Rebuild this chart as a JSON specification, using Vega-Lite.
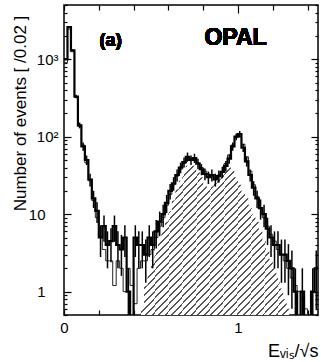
{
  "$schema": "https://vega.github.io/schema/vega-lite/v6.json",
  "width": 254,
  "height": 310,
  "autosize": "none",
  "padding": {"left": 64, "top": 5, "right": 3, "bottom": 47},
  "background": "white",
  "config": {
    "view": {"stroke": "black", "strokeWidth": 1.5},
    "font": "Liberation Sans",
    "axis": {"grid": false, "domain": false, "tickColor": "black", "labelColor": "black", "labelFont": "Liberation Sans", "labelFontSize": 15, "titleFont": "Liberation Sans", "titleColor": "black", "titleFontWeight": "normal"}
  },
  "data": {"values": [
    {"x": 0.00, "d": 1000, "m": 900, "lo": 968, "hi": 1032},
    {"x": 0.02, "d": 2600, "m": 2450, "lo": 2549, "hi": 2651},
    {"x": 0.04, "d": 1300, "m": 1250, "lo": 1264, "hi": 1336},
    {"x": 0.06, "d": 330, "m": 320, "lo": 312, "hi": 348},
    {"x": 0.08, "d": 140, "m": 135, "lo": 128, "hi": 152},
    {"x": 0.10, "d": 75, "m": 78, "lo": 66, "hi": 84},
    {"x": 0.12, "d": 50, "m": 46, "lo": 43, "hi": 57},
    {"x": 0.14, "d": 28, "m": 27, "lo": 22.7, "hi": 33.3},
    {"x": 0.16, "d": 16, "m": 15, "lo": 12, "hi": 20},
    {"x": 0.18, "d": 11, "m": 9, "lo": 7.7, "hi": 14.3},
    {"x": 0.20, "d": 5, "m": 5, "lo": 2.8, "hi": 7.2},
    {"x": 0.22, "d": 7, "m": 3.5, "lo": 4.4, "hi": 9.6},
    {"x": 0.24, "d": 4, "m": 2.5, "lo": 2, "hi": 6},
    {"x": 0.26, "d": 4.5, "m": 2.5, "lo": 2.4, "hi": 6.6},
    {"x": 0.28, "d": 7, "m": 1.2, "lo": 4.4, "hi": 9.6},
    {"x": 0.30, "d": 4, "m": 2.5, "lo": 2, "hi": 6},
    {"x": 0.32, "d": 3.5, "m": 2, "lo": 1.6, "hi": 5.4},
    {"x": 0.34, "d": 5, "m": 1, "lo": 2.8, "hi": 7.2},
    {"x": 0.36, "d": 1, "m": 2, "lo": 0.3, "hi": 2},
    {"x": 0.38, "d": 0.3, "m": 1.2},
    {"x": 0.40, "d": 5, "m": 0.7, "lo": 2.8, "hi": 7.2},
    {"x": 0.42, "d": 4, "m": 2, "s": 0.3, "lo": 2, "hi": 6},
    {"x": 0.44, "d": 4, "m": 2.5, "s": 0.6, "lo": 2, "hi": 6},
    {"x": 0.46, "d": 3, "m": 2.5, "s": 1.2, "lo": 1.3, "hi": 4.7},
    {"x": 0.48, "d": 5, "m": 3, "s": 1.8, "lo": 2.8, "hi": 7.2},
    {"x": 0.50, "d": 4, "m": 3.5, "s": 2.5, "lo": 2, "hi": 6},
    {"x": 0.52, "d": 6, "m": 5, "s": 3.5, "lo": 3.6, "hi": 8.4},
    {"x": 0.54, "d": 8, "m": 7, "s": 4.5, "lo": 5.2, "hi": 10.8},
    {"x": 0.56, "d": 10, "m": 9, "s": 6, "lo": 6.8, "hi": 13.2},
    {"x": 0.58, "d": 14, "m": 13, "s": 8, "lo": 10.3, "hi": 17.7},
    {"x": 0.60, "d": 20, "m": 18, "s": 11, "lo": 15.5, "hi": 24.5},
    {"x": 0.62, "d": 25, "m": 24, "s": 15, "lo": 20, "hi": 30},
    {"x": 0.64, "d": 32, "m": 31, "s": 21, "lo": 26.3, "hi": 37.7},
    {"x": 0.66, "d": 40, "m": 38, "s": 27, "lo": 33.7, "hi": 46.3},
    {"x": 0.68, "d": 47, "m": 45, "s": 34, "lo": 40.1, "hi": 53.9},
    {"x": 0.70, "d": 55, "m": 50, "s": 42, "lo": 47.6, "hi": 62.4},
    {"x": 0.72, "d": 50, "m": 52, "s": 44, "lo": 43, "hi": 57},
    {"x": 0.74, "d": 53, "m": 50, "s": 42, "lo": 45.7, "hi": 60.3},
    {"x": 0.76, "d": 45, "m": 46, "s": 36, "lo": 38.3, "hi": 51.7},
    {"x": 0.78, "d": 38, "m": 40, "s": 30, "lo": 31.8, "hi": 44.2},
    {"x": 0.80, "d": 33, "m": 36, "s": 24, "lo": 27.3, "hi": 38.7},
    {"x": 0.82, "d": 30, "m": 33, "s": 22, "lo": 24.5, "hi": 35.5},
    {"x": 0.84, "d": 32, "m": 31, "s": 23, "lo": 26.3, "hi": 37.7},
    {"x": 0.86, "d": 28, "m": 31, "s": 25, "lo": 22.7, "hi": 33.3},
    {"x": 0.88, "d": 31, "m": 32, "s": 28, "lo": 25.4, "hi": 36.6},
    {"x": 0.90, "d": 35, "m": 36, "s": 33, "lo": 29.1, "hi": 40.9},
    {"x": 0.92, "d": 42, "m": 45, "s": 38, "lo": 35.5, "hi": 48.5},
    {"x": 0.94, "d": 52, "m": 58, "s": 40, "lo": 44.8, "hi": 59.2},
    {"x": 0.96, "d": 75, "m": 78, "s": 36, "lo": 66, "hi": 84},
    {"x": 0.98, "d": 100, "m": 98, "s": 30, "lo": 90, "hi": 110},
    {"x": 1.00, "d": 108, "m": 100, "s": 24, "lo": 97.6, "hi": 118.4},
    {"x": 1.02, "d": 72, "m": 80, "s": 19, "lo": 63.5, "hi": 80.5},
    {"x": 1.04, "d": 48, "m": 55, "s": 16, "lo": 41.1, "hi": 54.9},
    {"x": 1.06, "d": 32, "m": 36, "s": 13, "lo": 26.3, "hi": 37.7},
    {"x": 1.08, "d": 22, "m": 24, "s": 10, "lo": 17.3, "hi": 26.7},
    {"x": 1.10, "d": 16, "m": 17, "s": 8, "lo": 12, "hi": 20},
    {"x": 1.12, "d": 12, "m": 12, "s": 6, "lo": 8.5, "hi": 15.5},
    {"x": 1.14, "d": 10, "m": 9, "s": 4.5, "lo": 6.8, "hi": 13.2},
    {"x": 1.16, "d": 6.5, "m": 7, "s": 3.5, "lo": 4, "hi": 9},
    {"x": 1.18, "d": 5, "m": 5.5, "s": 2.6, "lo": 2.8, "hi": 7.2},
    {"x": 1.20, "d": 4, "m": 4.5, "s": 2, "lo": 2, "hi": 6},
    {"x": 1.22, "d": 4, "m": 3.5, "s": 1.5, "lo": 2, "hi": 6},
    {"x": 1.24, "d": 3, "m": 3, "s": 1.1, "lo": 1.3, "hi": 4.7},
    {"x": 1.26, "d": 3, "m": 2.5, "s": 0.8, "lo": 1.3, "hi": 4.7},
    {"x": 1.28, "d": 2.5, "m": 2, "s": 0.6, "lo": 0.9, "hi": 4.1},
    {"x": 1.30, "d": 2, "m": 1.5, "s": 0.3, "lo": 0.6, "hi": 3.4},
    {"x": 1.32, "d": 1, "m": 1.2, "s": 0.3, "lo": 0.3, "hi": 2},
    {"x": 1.34, "d": 0.3, "m": 1},
    {"x": 1.36, "d": 1, "m": 0.8, "lo": 0.3, "hi": 2},
    {"x": 1.38, "d": 0.3, "m": 0.6},
    {"x": 1.40, "d": 0.3, "m": 0.3},
    {"x": 1.42, "d": 1, "m": 0.3, "lo": 0.3, "hi": 2},
    {"x": 1.44, "d": 2, "m": 0.3, "lo": 0.6, "hi": 3.4},
    {"x": 1.46, "d": 2, "m": 0.3}
  ]},
  "layer": [
    {
      "transform": [{"filter": "isValid(datum.s)"}],
      "mark": {"type": "area", "interpolate": "step-after", "clip": true, "strokeWidth": 0,
        "fill": {"gradient": "linear", "x1": 0, "y1": 0, "x2": 1, "y2": 1, "stops": [
{"offset":0,"color":"#ffffff"},{"offset":0.015,"color":"#ffffff"},{"offset":0.015,"color":"#555555"},{"offset":0.0208,"color":"#555555"},
{"offset":0.0208,"color":"#ffffff"},{"offset":0.0358,"color":"#ffffff"},{"offset":0.0358,"color":"#555555"},{"offset":0.0417,"color":"#555555"},
{"offset":0.0417,"color":"#ffffff"},{"offset":0.0567,"color":"#ffffff"},{"offset":0.0567,"color":"#555555"},{"offset":0.0625,"color":"#555555"},
{"offset":0.0625,"color":"#ffffff"},{"offset":0.0775,"color":"#ffffff"},{"offset":0.0775,"color":"#555555"},{"offset":0.0833,"color":"#555555"},
{"offset":0.0833,"color":"#ffffff"},{"offset":0.0983,"color":"#ffffff"},{"offset":0.0983,"color":"#555555"},{"offset":0.1042,"color":"#555555"},
{"offset":0.1042,"color":"#ffffff"},{"offset":0.1192,"color":"#ffffff"},{"offset":0.1192,"color":"#555555"},{"offset":0.125,"color":"#555555"},
{"offset":0.125,"color":"#ffffff"},{"offset":0.14,"color":"#ffffff"},{"offset":0.14,"color":"#555555"},{"offset":0.1458,"color":"#555555"},
{"offset":0.1458,"color":"#ffffff"},{"offset":0.1608,"color":"#ffffff"},{"offset":0.1608,"color":"#555555"},{"offset":0.1667,"color":"#555555"},
{"offset":0.1667,"color":"#ffffff"},{"offset":0.1817,"color":"#ffffff"},{"offset":0.1817,"color":"#555555"},{"offset":0.1875,"color":"#555555"},
{"offset":0.1875,"color":"#ffffff"},{"offset":0.2025,"color":"#ffffff"},{"offset":0.2025,"color":"#555555"},{"offset":0.2083,"color":"#555555"},
{"offset":0.2083,"color":"#ffffff"},{"offset":0.2233,"color":"#ffffff"},{"offset":0.2233,"color":"#555555"},{"offset":0.2292,"color":"#555555"},
{"offset":0.2292,"color":"#ffffff"},{"offset":0.2442,"color":"#ffffff"},{"offset":0.2442,"color":"#555555"},{"offset":0.25,"color":"#555555"},
{"offset":0.25,"color":"#ffffff"},{"offset":0.265,"color":"#ffffff"},{"offset":0.265,"color":"#555555"},{"offset":0.2708,"color":"#555555"},
{"offset":0.2708,"color":"#ffffff"},{"offset":0.2858,"color":"#ffffff"},{"offset":0.2858,"color":"#555555"},{"offset":0.2917,"color":"#555555"},
{"offset":0.2917,"color":"#ffffff"},{"offset":0.3067,"color":"#ffffff"},{"offset":0.3067,"color":"#555555"},{"offset":0.3125,"color":"#555555"},
{"offset":0.3125,"color":"#ffffff"},{"offset":0.3275,"color":"#ffffff"},{"offset":0.3275,"color":"#555555"},{"offset":0.3333,"color":"#555555"},
{"offset":0.3333,"color":"#ffffff"},{"offset":0.3483,"color":"#ffffff"},{"offset":0.3483,"color":"#555555"},{"offset":0.3542,"color":"#555555"},
{"offset":0.3542,"color":"#ffffff"},{"offset":0.3692,"color":"#ffffff"},{"offset":0.3692,"color":"#555555"},{"offset":0.375,"color":"#555555"},
{"offset":0.375,"color":"#ffffff"},{"offset":0.39,"color":"#ffffff"},{"offset":0.39,"color":"#555555"},{"offset":0.3958,"color":"#555555"},
{"offset":0.3958,"color":"#ffffff"},{"offset":0.4108,"color":"#ffffff"},{"offset":0.4108,"color":"#555555"},{"offset":0.4167,"color":"#555555"},
{"offset":0.4167,"color":"#ffffff"},{"offset":0.4317,"color":"#ffffff"},{"offset":0.4317,"color":"#555555"},{"offset":0.4375,"color":"#555555"},
{"offset":0.4375,"color":"#ffffff"},{"offset":0.4525,"color":"#ffffff"},{"offset":0.4525,"color":"#555555"},{"offset":0.4583,"color":"#555555"},
{"offset":0.4583,"color":"#ffffff"},{"offset":0.4733,"color":"#ffffff"},{"offset":0.4733,"color":"#555555"},{"offset":0.4792,"color":"#555555"},
{"offset":0.4792,"color":"#ffffff"},{"offset":0.4942,"color":"#ffffff"},{"offset":0.4942,"color":"#555555"},{"offset":0.5,"color":"#555555"},
{"offset":0.5,"color":"#ffffff"},{"offset":0.515,"color":"#ffffff"},{"offset":0.515,"color":"#555555"},{"offset":0.5208,"color":"#555555"},
{"offset":0.5208,"color":"#ffffff"},{"offset":0.5358,"color":"#ffffff"},{"offset":0.5358,"color":"#555555"},{"offset":0.5417,"color":"#555555"},
{"offset":0.5417,"color":"#ffffff"},{"offset":0.5567,"color":"#ffffff"},{"offset":0.5567,"color":"#555555"},{"offset":0.5625,"color":"#555555"},
{"offset":0.5625,"color":"#ffffff"},{"offset":0.5775,"color":"#ffffff"},{"offset":0.5775,"color":"#555555"},{"offset":0.5833,"color":"#555555"},
{"offset":0.5833,"color":"#ffffff"},{"offset":0.5983,"color":"#ffffff"},{"offset":0.5983,"color":"#555555"},{"offset":0.6042,"color":"#555555"},
{"offset":0.6042,"color":"#ffffff"},{"offset":0.6192,"color":"#ffffff"},{"offset":0.6192,"color":"#555555"},{"offset":0.625,"color":"#555555"},
{"offset":0.625,"color":"#ffffff"},{"offset":0.64,"color":"#ffffff"},{"offset":0.64,"color":"#555555"},{"offset":0.6458,"color":"#555555"},
{"offset":0.6458,"color":"#ffffff"},{"offset":0.6608,"color":"#ffffff"},{"offset":0.6608,"color":"#555555"},{"offset":0.6667,"color":"#555555"},
{"offset":0.6667,"color":"#ffffff"},{"offset":0.6817,"color":"#ffffff"},{"offset":0.6817,"color":"#555555"},{"offset":0.6875,"color":"#555555"},
{"offset":0.6875,"color":"#ffffff"},{"offset":0.7025,"color":"#ffffff"},{"offset":0.7025,"color":"#555555"},{"offset":0.7083,"color":"#555555"},
{"offset":0.7083,"color":"#ffffff"},{"offset":0.7233,"color":"#ffffff"},{"offset":0.7233,"color":"#555555"},{"offset":0.7292,"color":"#555555"},
{"offset":0.7292,"color":"#ffffff"},{"offset":0.7442,"color":"#ffffff"},{"offset":0.7442,"color":"#555555"},{"offset":0.75,"color":"#555555"},
{"offset":0.75,"color":"#ffffff"},{"offset":0.765,"color":"#ffffff"},{"offset":0.765,"color":"#555555"},{"offset":0.7708,"color":"#555555"},
{"offset":0.7708,"color":"#ffffff"},{"offset":0.7858,"color":"#ffffff"},{"offset":0.7858,"color":"#555555"},{"offset":0.7917,"color":"#555555"},
{"offset":0.7917,"color":"#ffffff"},{"offset":0.8067,"color":"#ffffff"},{"offset":0.8067,"color":"#555555"},{"offset":0.8125,"color":"#555555"},
{"offset":0.8125,"color":"#ffffff"},{"offset":0.8275,"color":"#ffffff"},{"offset":0.8275,"color":"#555555"},{"offset":0.8333,"color":"#555555"},
{"offset":0.8333,"color":"#ffffff"},{"offset":0.8483,"color":"#ffffff"},{"offset":0.8483,"color":"#555555"},{"offset":0.8542,"color":"#555555"},
{"offset":0.8542,"color":"#ffffff"},{"offset":0.8692,"color":"#ffffff"},{"offset":0.8692,"color":"#555555"},{"offset":0.875,"color":"#555555"},
{"offset":0.875,"color":"#ffffff"},{"offset":0.89,"color":"#ffffff"},{"offset":0.89,"color":"#555555"},{"offset":0.8958,"color":"#555555"},
{"offset":0.8958,"color":"#ffffff"},{"offset":0.9108,"color":"#ffffff"},{"offset":0.9108,"color":"#555555"},{"offset":0.9167,"color":"#555555"},
{"offset":0.9167,"color":"#ffffff"},{"offset":0.9317,"color":"#ffffff"},{"offset":0.9317,"color":"#555555"},{"offset":0.9375,"color":"#555555"},
{"offset":0.9375,"color":"#ffffff"},{"offset":0.9525,"color":"#ffffff"},{"offset":0.9525,"color":"#555555"},{"offset":0.9583,"color":"#555555"},
{"offset":0.9583,"color":"#ffffff"},{"offset":0.9733,"color":"#ffffff"},{"offset":0.9733,"color":"#555555"},{"offset":0.9792,"color":"#555555"},
{"offset":0.9792,"color":"#ffffff"},{"offset":0.9942,"color":"#ffffff"},{"offset":0.9942,"color":"#555555"},{"offset":1,"color":"#555555"}
        ]}},
      "encoding": {
        "x": {"field": "x", "type": "quantitative", "scale": {"domain": [0, 1.46], "nice": false, "zero": false},
          "axis": {"orient": "bottom", "values": [0, 0.2, 0.4, 0.6, 0.8, 1, 1.2, 1.4], "tickSize": -5, "tickWidth": 1.2,
            "labelExpr": "datum.value == 0 ? '0' : datum.value == 1 ? '1' : ''", "labelPadding": 10, "labelFlush": false,
            "title": "Eᵥᵢₛ/√s", "titleFontSize": 18, "titleX": 254, "titleY": 41, "titleAlign": "right", "titleBaseline": "alphabetic", "titleAnchor": null}},
        "y": {"field": "s", "type": "quantitative", "scale": {"type": "log", "domain": [0.5, 5000], "nice": false},
          "axis": {"orient": "left", "values": [0.5,0.6,0.7,0.8,0.9,1,2,3,4,5,6,7,8,9,10,20,30,40,50,60,70,80,90,100,200,300,400,500,600,700,800,900,1000,2000,3000,4000,5000],
            "tickSize": {"condition": {"test": "datum.value == 1 || datum.value == 10 || datum.value == 100 || datum.value == 1000", "value": -7}, "value": -3},
            "tickWidth": 1.2,
            "labelExpr": "datum.value == 1 ? '1' : datum.value == 10 ? '10' : datum.value == 100 ? '10²' : datum.value == 1000 ? '10³' : ''",
            "labelPadding": {"condition": {"test": "datum.value >= 100", "value": 13}, "value": 26},
            "labelBaseline": "middle",
            "title": "Number of events [ /0.02 ]", "titleFontSize": 17, "titleAngle": -90, "titleX": -44, "titleY": 108, "titleAlign": "center", "titleBaseline": "middle", "titleAnchor": null}},
        "y2": {"datum": 0.5}
      }
    },
    {
      "mark": {"type": "line", "interpolate": "step-after", "clip": true, "color": "#222222", "strokeWidth": 1},
      "encoding": {
        "x": {"field": "x", "type": "quantitative",
          "axis": {"orient": "top", "values": [0, 0.2, 0.4, 0.6, 0.8, 1, 1.2, 1.4], "tickSize": {"condition": {"test": "datum.value == 1", "value": -8}, "value": -5}, "tickWidth": 1.2, "labels": false, "title": null}},
        "y": {"field": "m", "type": "quantitative",
          "axis": {"orient": "right", "values": [0.5,0.6,0.7,0.8,0.9,1,2,3,4,5,6,7,8,9,10,20,30,40,50,60,70,80,90,100,200,300,400,500,600,700,800,900,1000,2000,3000,4000,5000],
            "tickSize": {"condition": {"test": "datum.value == 1 || datum.value == 10 || datum.value == 100 || datum.value == 1000", "value": -7}, "value": -3},
            "tickWidth": 1.2, "labels": false, "title": null}}
      }
    },
    {
      "mark": {"type": "line", "interpolate": "step-after", "clip": true, "color": "black", "strokeWidth": 2.2},
      "encoding": {
        "x": {"field": "x", "type": "quantitative", "axis": null},
        "y": {"field": "d", "type": "quantitative", "axis": null}
      }
    },
    {
      "transform": [{"filter": "isValid(datum.lo)"}],
      "mark": {"type": "rule", "clip": true, "color": "black", "strokeWidth": 1.5, "xOffset": 1.74},
      "encoding": {
        "x": {"field": "x", "type": "quantitative", "axis": null},
        "y": {"field": "lo", "type": "quantitative", "axis": null},
        "y2": {"field": "hi"}
      }
    },
    {
      "mark": {"type": "text", "font": "Liberation Sans", "fontWeight": "bold", "fontSize": 18, "baseline": "middle", "align": "center"},
      "encoding": {
        "x": {"datum": 0.268, "type": "quantitative", "axis": null},
        "y": {"datum": 1730, "type": "quantitative", "axis": null},
        "text": {"value": "(a)"}
      }
    },
    {
      "mark": {"type": "text", "font": "Liberation Sans", "fontWeight": "bold", "fontSize": 23, "baseline": "middle", "align": "center"},
      "encoding": {
        "x": {"datum": 0.986, "type": "quantitative", "axis": null},
        "y": {"datum": 1900, "type": "quantitative", "axis": null},
        "text": {"value": "OPAL"}
      }
    }
  ],
  "resolve": {"axis": {"x": "independent", "y": "independent"}}
}
